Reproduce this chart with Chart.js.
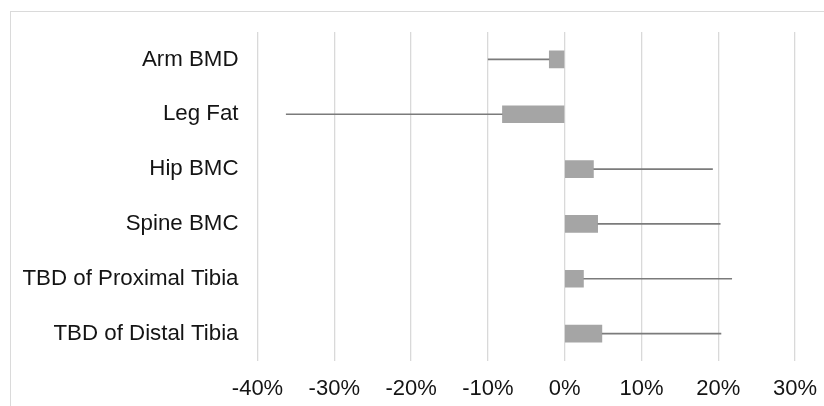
<!DOCTYPE html>
<html lang="en">
<head>
    <meta charset="UTF-8">
    <title>Percent change by site</title>
    <script src="https://cdn.jsdelivr.net/npm/chart.js"></script>
    <style>
        body { margin: 0; background: #fff; overflow: hidden; }
        #frame {
            position: absolute; left: 10px; top: 11px;
            width: 900px; height: 500px;
            border: 1.5px solid #dadada;
        }
        #wrap { position: absolute; left: 0; top: 0; width: 824px; height: 406px; }
    </style>
</head>
<body>
    <div id="frame"></div>
    <div id="wrap"><canvas id="myChart"></canvas></div>

    <script>
        const categories = ['Arm BMD', 'Leg Fat', 'Hip BMC', 'Spine BMC', 'TBD of Proximal Tibia', 'TBD of Distal Tibia'];
        const changes = [-2.0, -8.1, 3.75, 4.3, 2.45, 4.85];
        // one-sided error bars, drawn away from zero
        const errors = [8.0, 28.2, 15.55, 16.0, 19.35, 15.55];
        const xTicks = [-40, -30, -20, -10, 0, 10, 20, 30];

        const errorBars = {
            id: 'errorBars',
            afterDatasetsDraw(chart) {
                const ctx = chart.ctx;
                const xs = chart.scales.x;
                const meta = chart.getDatasetMeta(0);
                ctx.save();
                ctx.strokeStyle = '#7b7b7b';
                ctx.lineWidth = 1.6;
                meta.data.forEach((bar, i) => {
                    const v = changes[i];
                    const end = v + (v < 0 ? -errors[i] : errors[i]);
                    ctx.beginPath();
                    ctx.moveTo(xs.getPixelForValue(v), bar.y);
                    ctx.lineTo(xs.getPixelForValue(end), bar.y);
                    ctx.stroke();
                });
                ctx.restore();
            }
        };

        const ctx = document.getElementById('myChart').getContext('2d');
        const chart = new Chart(ctx, {
            type: 'bar',
            data: {
                labels: categories,
                datasets: [{
                    data: changes,
                    backgroundColor: '#a5a5a5',
                    borderWidth: 0,
                    barThickness: 17
                }]
            },
            options: {
                indexAxis: 'y',
                responsive: true,
                maintainAspectRatio: false,
                animation: false,
                layout: { padding: { top: 32, right: 29, left: 0, bottom: 0 } },
                plugins: { legend: { display: false }, tooltip: { enabled: false } },
                scales: {
                    x: {
                        min: -40,
                        max: 30,
                        afterBuildTicks: s => { s.ticks = xTicks.map(v => ({ value: v })); },
                        afterFit: s => { s.height = 45; s.paddingLeft = 0; s.paddingRight = 0; },
                        ticks: {
                            callback: v => v + '%',
                            color: '#141414',
                            font: { family: 'Liberation Sans, Arial', size: 22 },
                            padding: 15,
                            maxRotation: 0
                        },
                        grid: { color: '#d9d9d9', lineWidth: 1.3, drawTicks: false },
                        border: { display: false }
                    },
                    y: {
                        afterFit: s => { s.width = 257.5; s.paddingTop = 0; s.paddingBottom = 0; },
                        ticks: {
                            color: '#141414',
                            font: { family: 'Liberation Sans, Arial', size: 22.3 },
                            padding: 19
                        },
                        grid: { display: false, drawTicks: false },
                        border: { display: false }
                    }
                }
            },
            plugins: [errorBars]
        });
    </script>
</body>
</html>
